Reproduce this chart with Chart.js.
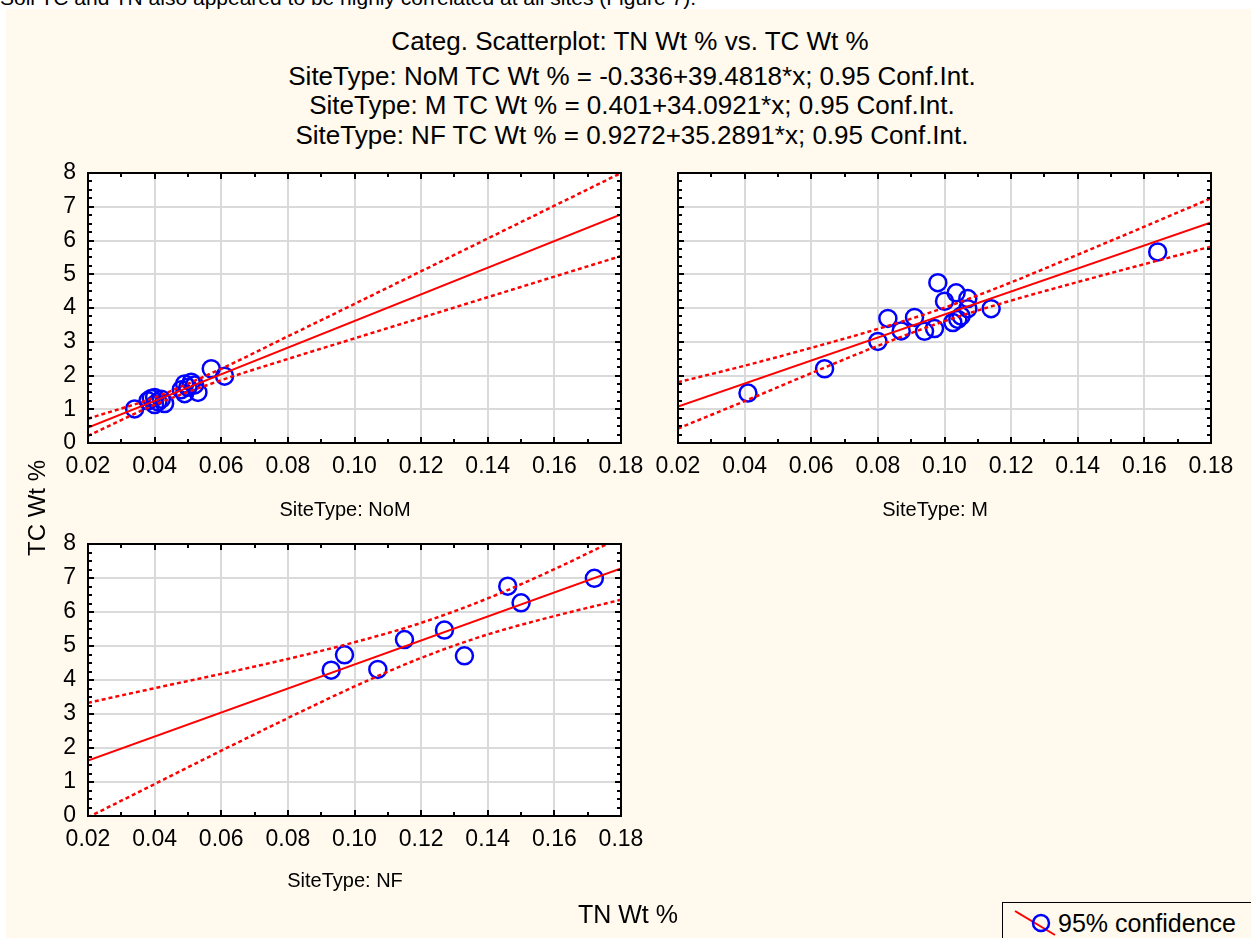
<!DOCTYPE html>
<html>
<head>
<meta charset="utf-8">
<script src="https://cdn.jsdelivr.net/npm/chart.js@4.4.1/dist/chart.umd.min.js"></script>
<style>
html, body { margin: 0; padding: 0; background: #fff; }
body { width: 1251px; height: 938px; position: relative; overflow: hidden;
       font-family: Arial, "Liberation Sans", sans-serif; color: #000; }
#paper { position: absolute; left: 6px; top: 9px; right: 0; bottom: 0; background: #FFF9EE; }
.txt { position: absolute; white-space: nowrap; line-height: 1; }
.c { transform: translateX(-50%); }
canvas { position: absolute; }
#legend { position: absolute; left: 1002px; top: 902px; width: 250px; height: 40px;
          border: 1px solid #000; box-sizing: border-box; }
</style>
</head>
<body>
<div class="txt" style="left:0;top:-13px;font-size:21px;">Soil TC and TN also appeared to be highly correlated at all sites (Figure 7).</div>
<div id="paper"></div>

<div class="txt c" style="left:630px;top:28px;font-size:26px;">Categ. Scatterplot: TN Wt % vs. TC Wt %</div>
<div class="txt c" style="left:632px;top:63px;font-size:26px;">SiteType: NoM TC Wt % = -0.336+39.4818*x; 0.95 Conf.Int.</div>
<div class="txt c" style="left:632px;top:92px;font-size:26px;">SiteType: M TC Wt % = 0.401+34.0921*x; 0.95 Conf.Int.</div>
<div class="txt c" style="left:632px;top:122px;font-size:26px;">SiteType: NF TC Wt % = 0.9272+35.2891*x; 0.95 Conf.Int.</div>

<canvas id="c1" width="630" height="370" style="left:20px;top:160px;"></canvas>
<canvas id="c2" width="590" height="370" style="left:650px;top:160px;"></canvas>
<canvas id="c3" width="630" height="370" style="left:20px;top:531px;"></canvas>

<div class="txt c" style="left:345px;top:499px;font-size:20px;">SiteType: NoM</div>
<div class="txt c" style="left:935px;top:499px;font-size:20px;">SiteType: M</div>
<div class="txt c" style="left:345px;top:870px;font-size:20px;">SiteType: NF</div>

<div class="txt" style="left:37px;top:508px;font-size:24px;transform:translate(-50%,-50%) rotate(-90deg);">TC Wt %</div>
<div class="txt c" style="left:628px;top:902px;font-size:25px;">TN Wt %</div>

<div id="legend">
  <svg width="56" height="38" style="position:absolute;left:8px;top:0;">
    <line x1="4" y1="8" x2="44" y2="32" stroke="#f00" stroke-width="2"/>
    <circle cx="30" cy="20" r="8" fill="none" stroke="#00f" stroke-width="2.5"/>
  </svg>
  <div class="txt" style="left:55px;top:8px;font-size:25px;">95% confidence</div>
</div>

<script>
// axis ticks
const xTickValues = [0.02, 0.04, 0.06, 0.08, 0.10, 0.12, 0.14, 0.16, 0.18];
const yTickValues = [0, 1, 2, 3, 4, 5, 6, 7, 8];

// SiteType: NoM
const nomX = [0.034, 0.038, 0.039, 0.040, 0.041, 0.040, 0.042, 0.043, 0.048, 0.049, 0.049, 0.051, 0.052, 0.053, 0.050, 0.057, 0.061];
const nomY = [1.01, 1.25, 1.32, 1.35, 1.22, 1.14, 1.30, 1.17, 1.58, 1.75, 1.46, 1.80, 1.72, 1.50, 1.65, 2.20, 1.98];
// SiteType: M
const mX = [0.041, 0.064, 0.080, 0.083, 0.087, 0.091, 0.094, 0.097, 0.098, 0.100, 0.1035, 0.107, 0.107, 0.1025, 0.104, 0.105, 0.114, 0.164];
const mY = [1.48, 2.20, 3.01, 3.69, 3.32, 3.72, 3.31, 3.39, 4.75, 4.20, 4.45, 4.28, 3.98, 3.57, 3.66, 3.76, 3.98, 5.66];
// SiteType: NF
const nfX = [0.093, 0.097, 0.107, 0.115, 0.127, 0.133, 0.146, 0.150, 0.172];
const nfY = [4.29, 4.74, 4.31, 5.19, 5.47, 4.71, 6.76, 6.27, 6.99];

// fitted lines, read at the ends of the x range
const fitX = [0.02, 0.18];
const nomFit = [0.454, 6.771];
const mFit = [1.083, 6.537];
const nfFit = [1.633, 7.279];

// 0.95 confidence bands
const bandX = [0.02, 0.04, 0.06, 0.08, 0.10, 0.12, 0.14, 0.16, 0.18];
const nomUpper = [0.72, 1.35, 2.20, 3.16, 4.12, 5.09, 6.06, 7.03, 8.00];
const nomLower = [0.21, 1.13, 1.86, 2.49, 3.10, 3.71, 4.32, 4.93, 5.54];
const mUpper = [1.80, 2.29, 2.82, 3.38, 4.01, 4.76, 5.58, 6.41, 7.25];
const mLower = [0.43, 1.24, 2.07, 2.88, 3.61, 4.22, 4.77, 5.30, 5.82];
const nfUpper = [3.33, 3.76, 4.18, 4.62, 5.11, 5.68, 6.40, 7.26, 8.20];
const nfLower = [-0.04, 0.94, 1.92, 2.88, 3.81, 4.65, 5.34, 5.88, 6.36];

const pts = (xs, ys) => xs.map((x, i) => ({x, y: ys[i]}));
const tickFont = {size: 23, family: 'Arial, "Liberation Sans"'};

// white plot area, black frame and inward ticks on all four sides
const frame = {
  id: 'frame',
  beforeDraw(chart) {
    const {ctx, chartArea: a} = chart;
    ctx.save();
    ctx.fillStyle = '#fff';
    ctx.fillRect(a.left, a.top, a.right - a.left, a.bottom - a.top);
    ctx.restore();
  },
  afterDraw(chart) {
    const {ctx, chartArea: a, scales: {x, y}} = chart;
    ctx.save();
    ctx.strokeStyle = '#000';
    ctx.lineWidth = 2;
    ctx.beginPath();
    for (let k = 0; k <= 16; k++) {
      const px = Math.round(x.getPixelForValue(xTickValues[0] + k * 0.01));
      const len = k % 2 === 0 ? 6 : 4;
      ctx.moveTo(px, a.top); ctx.lineTo(px, a.top + len);
      ctx.moveTo(px, a.bottom); ctx.lineTo(px, a.bottom - len);
    }
    for (let k = 0; k <= 32; k++) {
      const py = Math.round(y.getPixelForValue(k * 0.25));
      const len = k % 4 === 0 ? 6 : 4;
      ctx.moveTo(a.left, py); ctx.lineTo(a.left + len, py);
      ctx.moveTo(a.right, py); ctx.lineTo(a.right - len, py);
    }
    ctx.stroke();
    ctx.strokeRect(a.left, a.top, a.right - a.left, a.bottom - a.top);
    ctx.restore();
  }
};

function makePanel(id, points, fit, upper, lower, opts) {
  const red = '#ff0000';
  new Chart(document.getElementById(id), {
    type: 'scatter',
    data: {
      datasets: [
        {data: pts(fitX, fit), showLine: true, borderColor: red, borderWidth: 2, pointRadius: 0},
        {data: pts(bandX, upper), showLine: true, borderColor: red, borderWidth: 2.5,
         borderDash: [4, 3], pointRadius: 0, cubicInterpolationMode: 'monotone'},
        {data: pts(bandX, lower), showLine: true, borderColor: red, borderWidth: 2.5,
         borderDash: [4, 3], pointRadius: 0, cubicInterpolationMode: 'monotone'},
        {data: points, pointRadius: 8.5, pointHoverRadius: 8.5, pointStyle: 'circle',
         borderColor: '#0000ff', borderWidth: 2.5, backgroundColor: 'rgba(0,0,0,0)'}
      ]
    },
    options: {
      responsive: false,
      animation: false,
      events: [],
      layout: {padding: {top: 13, right: 29, bottom: 0, left: 0}},
      plugins: {legend: {display: false}, tooltip: {enabled: false}},
      scales: {
        x: {
          type: 'linear', min: 0.02, max: 0.18,
          afterBuildTicks: s => { s.ticks = xTickValues.map(v => ({value: v})); },
          afterFit: s => { s.height = opts.xHeight; s.paddingLeft = 0; s.paddingRight = 0; },
          grid: {color: '#dadada', lineWidth: 2, drawTicks: false},
          border: {display: false},
          ticks: {color: '#000', padding: 10, font: tickFont,
                  maxRotation: 0, callback: v => v.toFixed(2)}
        },
        y: {
          type: 'linear', min: 0, max: 8,
          afterBuildTicks: s => { s.ticks = yTickValues.map(v => ({value: v})); },
          afterFit: s => { s.width = opts.yWidth; s.paddingTop = 0; s.paddingBottom = 0; },
          grid: {color: '#dadada', lineWidth: 2, drawTicks: false},
          border: {display: false},
          ticks: {display: opts.yLabels, color: '#000', padding: 12, font: tickFont}
        }
      }
    },
    plugins: [frame]
  });
}

makePanel('c1', pts(nomX, nomY), nomFit, nomUpper, nomLower, {xHeight: 87, yWidth: 68, yLabels: true});
makePanel('c2', pts(mX, mY), mFit, mUpper, mLower, {xHeight: 87, yWidth: 28, yLabels: false});
makePanel('c3', pts(nfX, nfY), nfFit, nfUpper, nfLower, {xHeight: 85, yWidth: 68, yLabels: true});
</script>
</body>
</html>
